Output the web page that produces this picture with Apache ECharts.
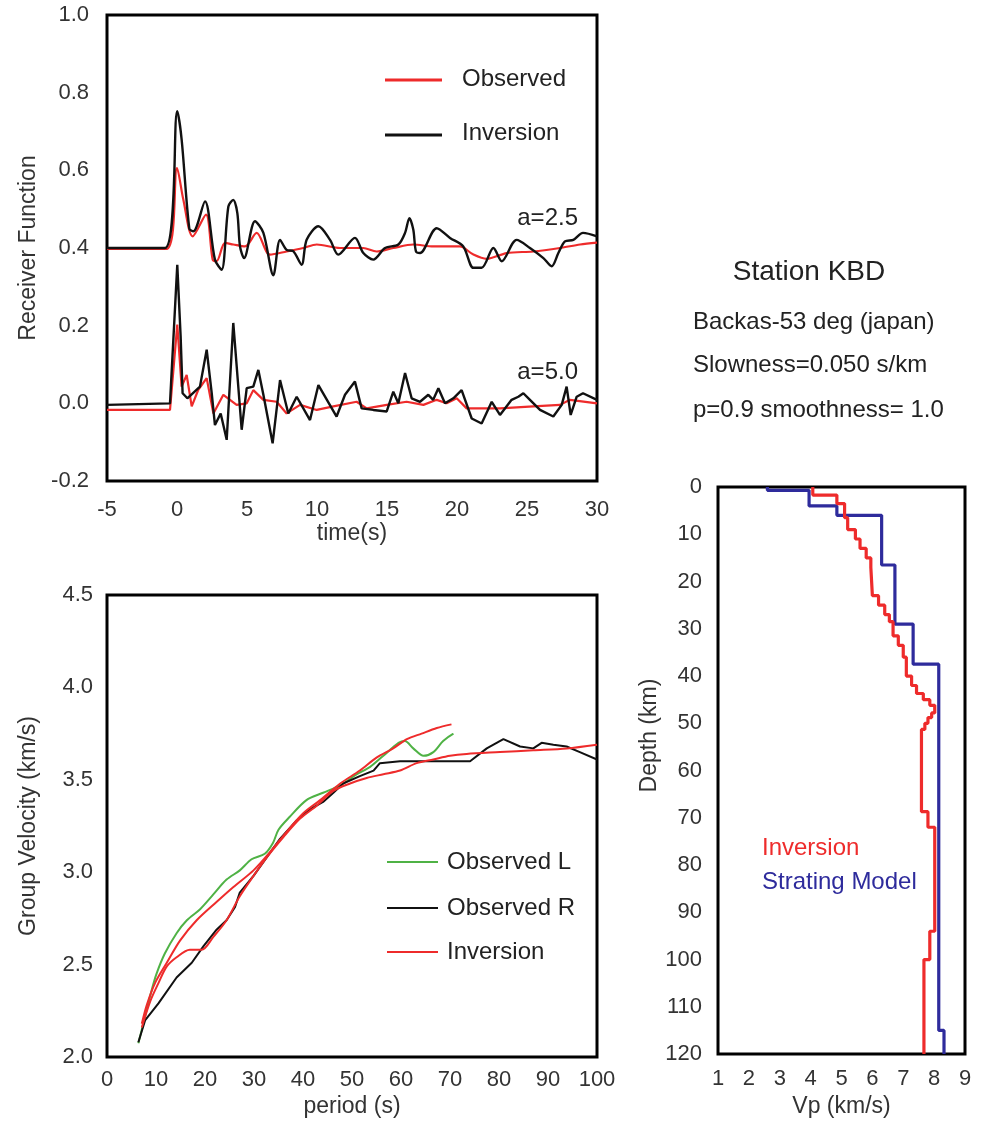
<!DOCTYPE html>
<html><head><meta charset="utf-8">
<script src="https://cdn.jsdelivr.net/npm/echarts@6/dist/echarts.min.js"></script>
<style>html,body{margin:0;padding:0;background:#fff}#c{width:981px;height:1123px}</style>
</head><body><div id="c"></div>
<script>
// ---------- Receiver functions (time s, amplitude) ----------
const obs25T = [-5, -0.74, 0.0, 0.45, 1.12, 2.07, 2.55, 2.83, 3.43, 4.02, 4.86, 5.69, 6.64, 7.83, 9.02, 9.98, 11.64, 13.3, 14.26, 15.45, 16.88, 18.3, 20.2, 21.17, 22.12, 23.55, 25.45, 27.36, 28.79, 30];
const obs25V = [0.398, 0.398, 0.606, 0.525, 0.43, 0.486, 0.37, 0.366, 0.413, 0.409, 0.404, 0.439, 0.383, 0.391, 0.40, 0.409, 0.40, 0.40, 0.391, 0.40, 0.409, 0.404, 0.404, 0.383, 0.372, 0.387, 0.391, 0.40, 0.409, 0.414];
const inv25T = [-5, -0.86, 0.02, 0.33, 0.88, 1.17, 2.0, 2.71, 3.19, 3.67, 4.02, 4.31, 4.5, 4.79, 5.57, 6.17, 6.88, 7.36, 7.83, 8.3, 8.9, 9.26, 10.1, 10.93, 11.52, 12.71, 13.31, 14.02, 14.86, 15.81, 16.29, 16.6, 16.88, 17.07, 17.36, 18.55, 19.5, 20.45, 21.17, 21.76, 22.6, 23.2, 24.26, 25.21, 26.17, 26.76, 27.24, 27.71, 28.31, 29.0, 30];
const inv25V = [0.40, 0.40, 0.752, 0.68, 0.45, 0.443, 0.52, 0.37, 0.344, 0.507, 0.524, 0.49, 0.404, 0.374, 0.469, 0.439, 0.33, 0.421, 0.395, 0.392, 0.357, 0.421, 0.456, 0.421, 0.383, 0.426, 0.387, 0.37, 0.40, 0.409, 0.439, 0.477, 0.447, 0.391, 0.387, 0.451, 0.426, 0.404, 0.349, 0.349, 0.40, 0.366, 0.421, 0.40, 0.374, 0.353, 0.387, 0.417, 0.421, 0.439, 0.43];
const obs50T = [-5, -0.5, 0.02, 0.33, 0.69, 1.05, 1.52, 2.12, 2.6, 3.31, 4.26, 4.98, 5.45, 6.17, 7.12, 7.83, 8.79, 9.98, 11.17, 12.83, 13.55, 14.98, 16.4, 17.6, 18.55, 19.26, 19.98, 20.69, 23.07, 25.45, 27.36, 28.07, 30];
const obs50V = [-0.017, -0.017, 0.203, 0.043, 0.073, -0.008, 0.035, 0.065, -0.026, 0.022, -0.004, 0.0, 0.034, 0.009, 0.004, -0.026, -0.004, -0.017, -0.008, 0.004, -0.013, -0.004, 0.004, -0.004, 0.009, 0.0, 0.013, -0.013, -0.013, -0.008, -0.004, 0.009, 0.0];
const inv50T = [-5, -0.5, 0.02, 0.26, 0.4, 0.74, 1.64, 2.12, 2.48, 2.71, 3.12, 3.55, 4.02, 4.62, 4.98, 5.45, 5.81, 6.17, 6.83, 7.36, 7.95, 8.55, 9.5, 10.1, 11.4, 12.0, 12.71, 13.19, 14.02, 14.98, 15.45, 15.81, 16.29, 16.76, 17.36, 17.95, 18.3, 18.67, 19.14, 19.74, 20.33, 21.05, 21.76, 22.48, 23.07, 23.9, 24.38, 24.74, 25.21, 25.93, 26.88, 27.48, 27.83, 28.12, 28.55, 29.0, 30];
const inv50V = [-0.004, 0.0, 0.357, 0.172, 0.026, 0.013, 0.043, 0.138, 0.026, -0.056, -0.026, -0.094, 0.207, -0.068, 0.039, 0.043, 0.086, 0.022, -0.103, 0.06, -0.026, 0.017, -0.043, 0.047, -0.034, 0.022, 0.056, -0.013, -0.017, -0.021, 0.030, 0.0, 0.078, 0.013, 0.004, 0.022, 0.009, 0.039, 0.0, 0.013, 0.034, -0.039, -0.052, 0.004, -0.030, 0.009, 0.017, 0.026, 0.009, -0.017, -0.034, -0.004, 0.043, -0.03, 0.017, 0.026, 0.009];

// ---------- Group velocity dispersion (period s, km/s) ----------
const obsLT = [6.4, 7.4, 9.1, 10.1, 11.8, 14.2, 16.3, 19.0, 21.7, 24.4, 27.1, 29.5, 32.2, 33.9, 35.0, 37.3, 40.7, 44.1, 47.6, 51.0, 53.7, 56.4, 59.5, 60.8, 62.5, 64.6, 66.6, 68.6, 70.7];
const obsLV = [2.074, 2.18, 2.36, 2.45, 2.56, 2.67, 2.74, 2.80, 2.88, 2.96, 3.01, 3.07, 3.10, 3.16, 3.23, 3.30, 3.39, 3.43, 3.47, 3.53, 3.57, 3.63, 3.70, 3.71, 3.67, 3.63, 3.65, 3.71, 3.75];
const obsRT = [6.4, 7.8, 10.5, 14.2, 17.3, 19.7, 22.4, 24.4, 26.1, 27.1, 29.9, 32.6, 35.3, 38.7, 41.4, 44.1, 46.2, 48.2, 51.6, 54.4, 55.7, 59.8, 66.6, 74.1, 77.5, 80.9, 84.3, 87.0, 88.7, 91.1, 93.8, 96.5, 100];
const obsRV = [2.08, 2.20, 2.29, 2.43, 2.51, 2.60, 2.69, 2.74, 2.81, 2.89, 2.98, 3.08, 3.18, 3.28, 3.34, 3.38, 3.43, 3.48, 3.52, 3.55, 3.59, 3.60, 3.60, 3.60, 3.67, 3.72, 3.68, 3.67, 3.70, 3.69, 3.68, 3.65, 3.61];
const invLT = [7.1, 8.1, 9.8, 12.2, 14.9, 18.3, 22.4, 25.8, 29.9, 33.3, 36.7, 40.1, 43.5, 47.6, 51.6, 55.0, 58.4, 61.2, 64.2, 67.3, 70.3];
const invLV = [2.18, 2.28, 2.40, 2.51, 2.63, 2.74, 2.84, 2.92, 3.01, 3.11, 3.22, 3.32, 3.39, 3.48, 3.55, 3.62, 3.67, 3.72, 3.75, 3.78, 3.80];
const invRT = [7.1, 8.8, 10.5, 12.2, 14.2, 16.9, 19.3, 21.7, 24.4, 27.1, 29.9, 32.6, 36.0, 39.4, 42.8, 46.2, 49.6, 53.0, 56.4, 59.8, 63.2, 66.6, 70.0, 73.4, 80.2, 87.0, 93.8, 100];
const invRV = [2.16, 2.30, 2.40, 2.49, 2.54, 2.58, 2.58, 2.65, 2.74, 2.87, 2.98, 3.08, 3.19, 3.29, 3.36, 3.44, 3.48, 3.51, 3.53, 3.55, 3.59, 3.61, 3.63, 3.64, 3.65, 3.66, 3.67, 3.69];

// ---------- Vp models (layer top depth km, Vp km/s) ----------
const modelBottom = 120;
const startTop = [0, 0.7, 4, 6, 16.5, 29, 37.5, 115];
const startVp  = [2.6, 3.95, 4.85, 6.3, 6.73, 7.32, 8.15, 8.32];
const invTop = [0, 1.7, 3.5, 6.5, 9, 11, 13, 15, 17, 23, 25, 27, 28.5, 31.5, 33.5, 36, 40, 42, 43.7, 45, 46.2, 47.8, 48.8, 50, 51.3, 68.7, 72, 94, 100];
const invVp  = [4.07, 4.85, 5.1, 5.2, 5.45, 5.6, 5.8, 5.95, 6.0, 6.2, 6.4, 6.55, 6.67, 6.84, 7.0, 7.1, 7.27, 7.43, 7.65, 7.86, 8.02, 7.92, 7.8, 7.7, 7.59, 7.8, 8.02, 7.86, 7.67];

// ---------- Tick labels ----------
const rfTicks = [-0.2, 0.0, 0.2, 0.4, 0.6, 0.8, 1.0];
const gvTicks = [2.0, 2.5, 3.0, 3.5, 4.0, 4.5];

function pairs(t, v) { return t.map((x, i) => [x, v[i]]); }
function steps(tops, vps, bottom) {
  const pts = [];
  for (let i = 0; i < tops.length; i++) {
    const next = i + 1 < tops.length ? tops[i + 1] : bottom;
    pts.push([vps[i], tops[i]]);
    pts.push([vps[i], next]);
  }
  return pts;
}

const FONT = "'Liberation Sans', Arial, Helvetica, sans-serif";
const RED = '#ee2b2b', BLACK = '#111111', GREEN = '#4fb245', BLUE = '#2e2b9c';
const TXT = '#333333';

function xAx(gi, min, max, interval, name, margin, gap, fmt) {
  return {
    type: 'value', gridIndex: gi, min, max, interval,
    axisLine: { show: false }, axisTick: { show: false }, splitLine: { show: false },
    axisLabel: { color: TXT, fontSize: 22, fontFamily: FONT, margin, showMinLabel: true, showMaxLabel: true, hideOverlap: false, formatter: fmt },
    name, nameLocation: 'middle', nameGap: gap,
    nameTextStyle: { color: TXT, fontSize: 23, fontFamily: FONT }
  };
}
function yAx(gi, min, max, interval, name, margin, gap, fmt, extra, labelPad) {
  return Object.assign({
    type: 'value', gridIndex: gi, min, max, interval,
    axisLine: { show: false }, axisTick: { show: false }, splitLine: { show: false },
    axisLabel: { color: TXT, fontSize: 22, fontFamily: FONT, margin, showMinLabel: true, showMaxLabel: true, hideOverlap: false, formatter: fmt, padding: labelPad || 0 },
    name, nameLocation: 'middle', nameGap: gap,
    nameTextStyle: { color: TXT, fontSize: 23, fontFamily: FONT }
  }, extra || {});
}
const f1 = v => Number(v).toFixed(1);
const f0 = v => String(Math.round(v));

function line(name, data, color, width, xi, smooth) {
  return {
    type: 'line', name, data, xAxisIndex: xi, yAxisIndex: xi,
    showSymbol: false, symbol: 'none', smooth: smooth || false,
    lineStyle: { color, width }, itemStyle: { color }, z: 3
  };
}

const gridBox = { show: true, borderColor: '#000', borderWidth: 3, backgroundColor: 'transparent', containLabel: false };

function gLine(x1, y, x2, color, w) {
  return { type: 'line', shape: { x1, y1: y, x2, y2: y }, style: { stroke: color, lineWidth: w } };
}
function gText(text, x, y, color, size, align) {
  return { type: 'text', x, y, style: { text, fill: color, font: size + 'px ' + FONT, textAlign: align || 'left', textVerticalAlign: 'middle' } };
}

const option = {
  animation: false,
  backgroundColor: '#fff',
  textStyle: { fontFamily: FONT },
  grid: [
    Object.assign({ left: 107, top: 15, width: 490, height: 466 }, gridBox),
    Object.assign({ left: 107, top: 595, width: 490, height: 462 }, gridBox),
    Object.assign({ left: 718, top: 487, width: 247, height: 570 }, gridBox)
  ],
  xAxis: [
    xAx(0, -5, 30, 5, 'time(s)', 18, 33, f0),
    xAx(1, 0, 100, 10, 'period (s)', 12, 38, f0),
    xAx(2, 1, 9, 1, 'Vp (km/s)', 14, 40, f0)
  ],
  yAxis: [
    yAx(0, rfTicks[0], rfTicks[rfTicks.length - 1], 0.2, 'Receiver Function', 18, 67, f1, null, [10, 0, 0, 0]),
    yAx(1, gvTicks[0], gvTicks[gvTicks.length - 1], 0.5, 'Group Velocity (km/s)', 14, 67, f1, null, [4, 0, 0, 0]),
    yAx(2, 0, modelBottom, 10, 'Depth (km)', 16, 50, f0, { inverse: true,
      nameTextStyle: { color: TXT, fontSize: 23, fontFamily: FONT, padding: [0, 0, 0, 70] } })
  ],
  series: [
    line('Observed', pairs(obs25T, obs25V), RED, 2.2, 0, 0.3),
    line('Inversion', pairs(inv25T, inv25V), BLACK, 2.4, 0, 0.3),
    line('Observed', pairs(obs50T, obs50V), RED, 2.2, 0, false),
    line('Inversion', pairs(inv50T, inv50V), BLACK, 2.4, 0, false),
    line('Observed L', pairs(obsLT, obsLV), GREEN, 2, 1, 0.3),
    line('Observed R', pairs(obsRT, obsRV), BLACK, 2, 1, false),
    line('Inversion', pairs(invLT, invLV), RED, 2, 1, 0.3),
    line('Inversion', pairs(invRT, invRV), RED, 2, 1, 0.3),
    line('Strating Model', steps(startTop, startVp, modelBottom), BLUE, 3.2, 2, false),
    line('Inversion', steps(invTop, invVp, modelBottom), RED, 3.2, 2, false)
  ],
  graphic: [
    gLine(385, 80, 442, RED, 3), gText('Observed', 462, 79, '#222', 24),
    gLine(385, 135, 442, BLACK, 3), gText('Inversion', 462, 133, '#222', 24),
    gText('a=2.5', 578, 218, '#222', 24, 'right'),
    gText('a=5.0', 578, 372, '#222', 24, 'right'),
    gLine(387, 862, 438, GREEN, 2), gText('Observed L', 447, 862, '#222', 24),
    gLine(387, 908, 438, BLACK, 2), gText('Observed R', 447, 908, '#222', 24),
    gLine(387, 952, 438, RED, 2), gText('Inversion', 447, 952, '#222', 24),
    gText('Inversion', 762, 848, RED, 24),
    gText('Strating Model', 762, 882, BLUE, 24),
    gText('Station KBD', 809, 272, '#222', 28, 'center'),
    gText('Backas-53 deg (japan)', 693, 322, '#222', 24),
    gText('Slowness=0.050 s/km', 693, 365, '#222', 24),
    gText('p=0.9 smoothness= 1.0', 693, 410, '#222', 24)
  ]
};

const chart = echarts.init(document.getElementById('c'), null, { renderer: 'canvas', width: 981, height: 1123 });
chart.setOption(option);
</script>
</body></html>
